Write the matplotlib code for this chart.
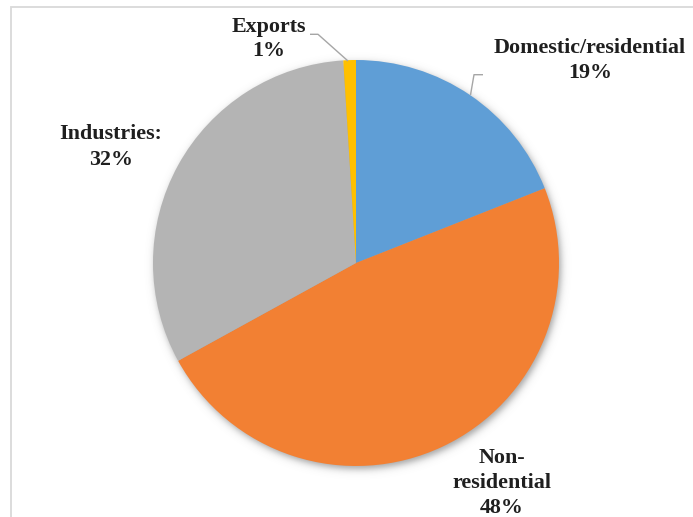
import numpy as np
import matplotlib.pyplot as plt
from matplotlib.patches import Rectangle

# Share of consumption by sector (%)
categories = ["Domestic/residential", "Non-\nresidential", "Industries:", "Exports"]
values = [19, 48, 32, 1]
colors = ["#5F9ED6", "#F28033", "#B4B4B4", "#FFC000"]

W, H = 693, 517
fig = plt.figure(figsize=(W / 100, H / 100), dpi=100)
ax = fig.add_axes([0, 0, 1, 1])


def Y(y):
    """Convert a top-down pixel row to the axes' bottom-up coordinate."""
    return H - y


cx, cy, R = 356, Y(263), 203

# Soft drop shadow behind the pie
gx, gy = np.meshgrid(np.arange(W) + 0.5, np.arange(H) + 0.5)
dist = np.hypot(gx - (cx + 2), gy - (cy - 3))
alpha = 0.55 / (1 + np.exp((dist - R) / 2.2))
shadow = np.zeros((H, W, 4))
shadow[..., :3] = 0.35
shadow[..., 3] = alpha
ax.imshow(shadow, extent=(0, W, 0, H), origin="lower", zorder=0,
          interpolation="bilinear")

ax.pie(values, colors=colors, startangle=90, counterclock=False,
       center=(cx, cy), radius=R, wedgeprops=dict(linewidth=0),
       frame=True)

ax.set_xlim(0, W)
ax.set_ylim(0, H)
ax.set_aspect("equal")
ax.axis("off")

# Label positions: centre x and first-line baseline (pixel rows), line step
label_pos = {
    "Domestic/residential": (590, 53, 25),
    "Non-\nresidential": (502, 463, 25),
    "Industries:": (111, 139, 26),
    "Exports": (269, 32, 24),
}
font = dict(family=["Liberation Serif", "DejaVu Serif"], weight="bold",
            size=15.8, color="#1F1F1F", ha="center", va="baseline")
for name, v in zip(categories, values):
    x, base, step = label_pos[name]
    lines = name.split("\n") + [f"{v}%"]
    for i, line in enumerate(lines):
        ax.text(x, Y(base + i * step), line, zorder=5, **font)

# Leader lines
leader = dict(color="#A6A6A6", lw=1.0, solid_capstyle="butt", zorder=4)
ax.plot([310, 318, 348], [Y(34.3), Y(34.3), Y(61)], **leader)
ax.plot([483, 474, 470.5], [Y(74.7), Y(74.7), Y(95)], **leader)

# Chart-area border
ax.add_patch(Rectangle((10.5, -20), 720, H - 6.5 + 20, fill=False,
                       edgecolor="#D9D9D9", lw=1.3, clip_on=False, zorder=6))

fig.savefig("out.png", dpi=100)
